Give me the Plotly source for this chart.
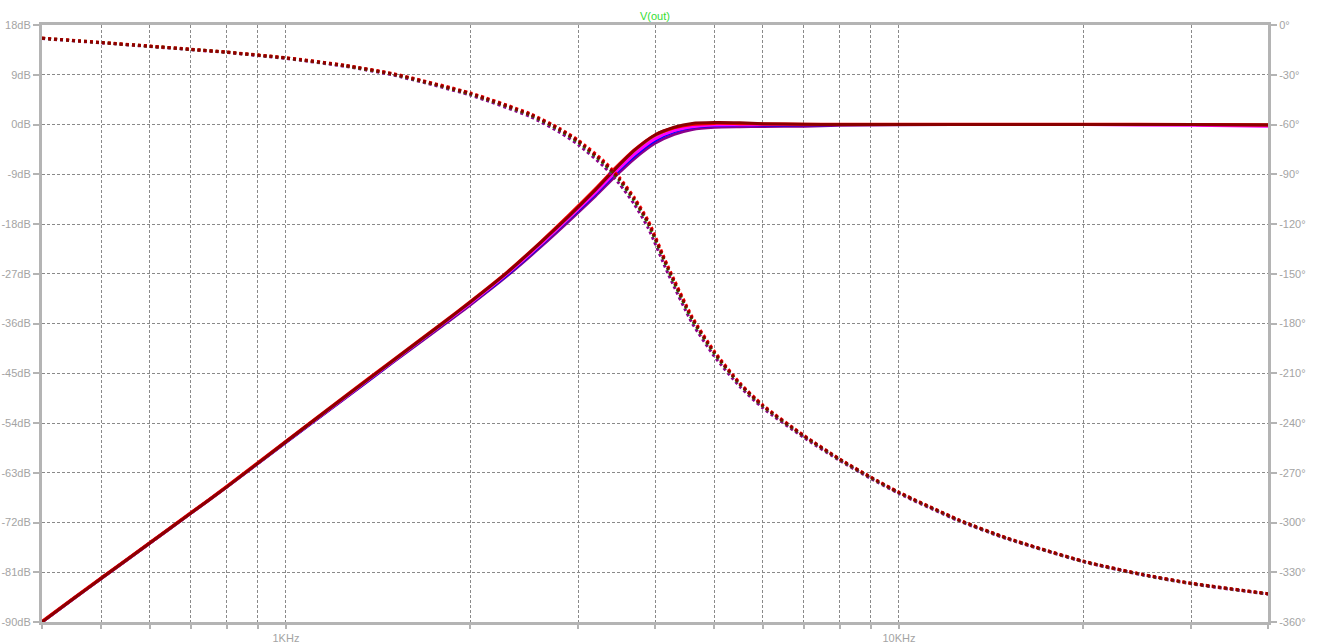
import plotly.graph_objects as go

# ---- Data ----
freq_mag = [400, 450, 500, 600, 700, 800, 1000, 1250, 1500, 1800, 2000, 2300, 2600, 2900,
            3200, 3450, 3700, 4000, 4300, 4600, 5000, 5500, 6000, 7000, 8000, 10000,
            15000, 20000, 30000, 40000]

mag_purple = [-90.0, -85.8, -82.1, -75.7, -70.3, -65.6, -57.5, -49.5, -42.9, -36.4, -32.6, -27.3,
              -22.2, -17.4, -12.9, -9.3, -6.2, -3.4, -1.8, -0.9, -0.5, -0.4, -0.35, -0.3, -0.15,
              -0.05, 0.0, 0.0, 0.0, -0.15]
mag_blue = [-90.0, -85.8, -82.1, -75.7, -70.3, -65.6, -57.5, -49.4, -42.8, -36.2, -32.4, -27.1,
            -21.9, -17.0, -12.5, -8.8, -5.7, -2.9, -1.3, -0.5, -0.2, -0.1, -0.1, -0.05, 0.0,
            0.0, 0.0, 0.0, 0.0, -0.1]
mag_orange = [-90.0, -85.8, -82.1, -75.7, -70.3, -65.6, -57.4, -49.3, -42.7, -36.1, -32.3, -26.9,
              -21.7, -16.8, -12.2, -8.5, -5.3, -2.5, -1.0, -0.3, 0.0, 0.0, 0.0, 0.0, 0.0, 0.0,
              0.0, 0.0, 0.0, -0.1]
mag_magenta = [-90.0, -85.8, -82.1, -75.7, -70.3, -65.6, -57.4, -49.3, -42.7, -36.1, -32.3, -26.9,
               -21.7, -16.8, -12.3, -8.6, -5.4, -2.6, -1.1, -0.4, -0.1, -0.05, 0.0, 0.0, 0.0, 0.0,
               0.0, 0.0, -0.15, -0.3]
mag_red = [-89.9, -85.7, -82.0, -75.6, -70.2, -65.5, -57.3, -49.1, -42.5, -35.9, -32.0, -26.6,
           -21.3, -16.3, -11.6, -7.8, -4.6, -1.9, -0.6, 0.0, 0.2, 0.15, 0.1, 0.05, 0.05, 0.05,
           0.05, 0.05, 0.0, -0.1]
mag_darkred = [-90.0, -85.8, -82.1, -75.7, -70.3, -65.6, -57.4, -49.2, -42.6, -36.0, -32.1, -26.7,
               -21.4, -16.5, -11.8, -8.0, -4.7, -1.9, -0.5, 0.2, 0.35, 0.3, 0.15, 0.05, 0.0, 0.0,
               0.0, 0.0, 0.0, -0.1]

freq_ph = [400, 500, 600, 700, 800, 1000, 1250, 1500, 2000, 2500, 2800, 3000, 3300, 3500, 3700,
           3900, 4200, 4600, 5000, 5500, 6000, 7000, 8000, 9000, 10000, 12500, 15000, 20000,
           25000, 30000, 40000]

ph_purple = [-8.2, -10.8, -13.0, -14.9, -16.6, -20.2, -25.0, -30.3, -42.3, -55.2, -64.8, -72.2,
             -85.3, -95.8, -108.0, -122.5, -149.8, -179.8, -199.8, -218.0, -231.0, -248.8,
             -262.6, -273.5, -282.5, -298.9, -309.8, -323.7, -331.7, -337.0, -343.2]
ph_green = [-8.0, -10.6, -12.8, -14.7, -16.4, -19.9, -24.6, -29.8, -41.6, -54.2, -63.5, -70.7,
            -83.5, -93.7, -105.8, -120.0, -147.4, -177.8, -198.1, -216.7, -229.9, -248.0,
            -262.0, -273.0, -282.0, -298.5, -309.5, -323.5, -331.5, -336.8, -343.0]
ph_red = [-7.9, -10.5, -12.7, -14.6, -16.3, -19.7, -24.3, -29.4, -41.0, -53.4, -62.5, -69.5,
          -82.0, -92.0, -104.0, -118.0, -145.5, -176.0, -196.8, -215.8, -229.2, -247.5,
          -261.6, -272.6, -281.7, -298.2, -309.3, -323.3, -331.3, -336.6, -342.9]
ph_darkred = [-8.0, -10.6, -12.8, -14.7, -16.4, -19.9, -24.5, -29.7, -41.4, -53.9, -63.1, -70.2,
              -82.9, -93.0, -105.0, -119.2, -146.6, -177.0, -197.6, -216.4, -229.7, -247.8,
              -261.8, -272.8, -281.9, -298.4, -309.4, -323.4, -331.4, -336.7, -343.0]

db_ticks = [18, 9, 0, -9, -18, -27, -36, -45, -54, -63, -72, -81, -90]
db_text = ["18dB", "9dB", "0dB", "-9dB", "-18dB", "-27dB", "-36dB", "-45dB", "-54dB",
           "-63dB", "-72dB", "-81dB", "-90dB"]
deg_ticks = [0, -30, -60, -90, -120, -150, -180, -210, -240, -270, -300, -330, -360]
deg_text = ["0°", "-30°", "-60°", "-90°", "-120°", "-150°", "-180°", "-210°", "-240°",
            "-270°", "-300°", "-330°", "-360°"]
x_ticks = [400, 500, 600, 700, 800, 900, 1000, 2000, 3000, 4000, 5000, 6000, 7000, 8000,
           9000, 10000, 20000, 30000, 40000]
x_text = ["", "", "", "", "", "", "1KHz", "", "", "", "", "", "", "", "", "10KHz", "", "", ""]

# ---- Styles ----
AXIS = "#B4B4B4"
LABEL = "#A4A4A4"
GRID = "#8A8A8A"
FONT = "Liberation Sans, Arial, sans-serif"

fig = go.Figure()

mag_runs = [(mag_purple, "#8B008B"), (mag_blue, "#0000FF"), (mag_orange, "#C8A000"),
            (mag_magenta, "#FF00FF"), (mag_red, "#FF0000"), (mag_darkred, "#8B0000")]
for vals, col in mag_runs:
    fig.add_trace(go.Scatter(x=freq_mag, y=vals, mode="lines",
                             line=dict(color=col, width=3, shape="spline", smoothing=0.6),
                             hoverinfo="skip"))

ph_runs = [(ph_purple, "#8B008B"), (ph_green, "#00A000"), (ph_red, "#FF0000"),
           (ph_darkred, "#8B0000")]
for vals, col in ph_runs:
    fig.add_trace(go.Scatter(x=freq_ph, y=vals, mode="lines", yaxis="y2",
                             line=dict(color=col, width=3, dash="3px,3px", shape="spline",
                                       smoothing=0.6),
                             hoverinfo="skip"))

fig.update_layout(
    width=1320, height=644, autosize=False,
    margin=dict(l=42, r=52, t=25, b=22, pad=0),
    paper_bgcolor="white", plot_bgcolor="white",
    showlegend=False, hovermode=False,
    font=dict(family=FONT, size=11, color=LABEL),
    xaxis=dict(type="log", range=[2.60206, 4.60206], automargin=False,
               tickvals=x_ticks, ticktext=x_text,
               showgrid=True, gridcolor=GRID, gridwidth=1, griddash="3px,2px",
               ticks="outside", ticklen=4, tickwidth=2, tickcolor=AXIS,
               showline=True, linecolor=AXIS, linewidth=3, mirror=True,
               zeroline=False, tickfont=dict(family=FONT, size=11, color=LABEL)),
    yaxis=dict(range=[-90, 18], tickvals=db_ticks, ticktext=db_text, automargin=False,
               showgrid=True, gridcolor=GRID, gridwidth=1, griddash="3px,2px",
               ticks="outside", ticklen=6, tickwidth=2, tickcolor=AXIS,
               showline=True, linecolor=AXIS, linewidth=3, mirror=True,
               zeroline=False, tickfont=dict(family=FONT, size=11, color=LABEL)),
    yaxis2=dict(range=[-360, 0], tickvals=deg_ticks, ticktext=deg_text, automargin=False,
                overlaying="y", side="right", showgrid=False, zeroline=False,
                ticks="outside", ticklen=6, tickwidth=2, tickcolor=AXIS,
                showline=True, linecolor=AXIS, linewidth=3,
                tickfont=dict(family=FONT, size=11, color=LABEL)),
    annotations=[dict(text="V(out)", x=0.5, y=1.0, xref="paper", yref="paper",
                      xanchor="center", yanchor="bottom", yshift=1, showarrow=False,
                      font=dict(family=FONT, size=11, color="#33DD33"))],
)

# Remove the browser's default 8px body margin so the figure fills the window exactly.
fig.write_html("out.html",
               config={"displayModeBar": False, "staticPlot": True},
               post_script="document.body.style.margin='0px';"
                           "document.body.style.overflow='hidden';")
